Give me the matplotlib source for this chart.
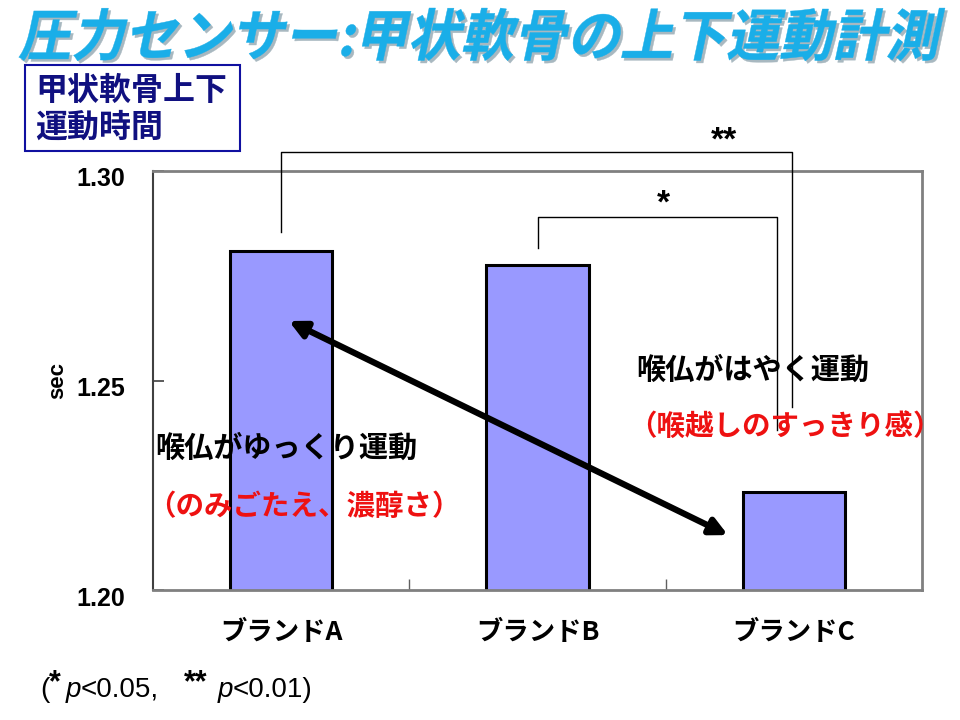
import math
import matplotlib
matplotlib.use("Agg")
import matplotlib.pyplot as plt
from matplotlib.textpath import TextPath
from matplotlib.font_manager import FontProperties
from matplotlib.patches import PathPatch, Rectangle
from matplotlib.transforms import Affine2D, ScaledTranslation

plt.rcParams['font.family'] = ['Noto Sans CJK JP', 'DejaVu Sans']

# ---- data ----
categories = ['ブランドA', 'ブランドB', 'ブランドC']
values = [1.281, 1.2775, 1.2235]
yticks = [1.20, 1.25, 1.30]
ytick_labels = ['1.20', '1.25', '1.30']
title = '圧力センサー:甲状軟骨の上下運動計測'
box_label_lines = ['甲状軟骨上下', '運動時間']
ylabel = 'sec'

W, H = 960, 720
fig = plt.figure(figsize=(9.6, 7.2), dpi=100)
fig.patch.set_facecolor('white')

ax = fig.add_axes([153 / W, 1 - 590 / H, (922 - 153) / W, (590 - 171) / H])
x = list(range(len(categories)))
ax.bar(x, values, width=0.4, color='#9999FF', edgecolor='black', linewidth=2.2, zorder=2)
ax.set_xlim(-0.5, 2.5)
ax.set_ylim(1.20, 1.30)
ax.set_yticks(yticks)
ax.set_yticklabels(ytick_labels, family=['Liberation Sans'], weight='bold', fontsize=18)
ax.tick_params(axis='y', direction='in', length=8, width=1.2, pad=20, color='#404040')
off = ScaledTranslation(0, -6 / 100, fig.dpi_scale_trans)
for lab in ax.get_yticklabels():
    lab.set_transform(lab.get_transform() + off)
ax.set_xticks(x)
ax.set_xticklabels(categories, fontsize=19, weight='bold')
ax.tick_params(axis='x', which='major', length=0, pad=21)
ax.set_xticks([0.5, 1.5], minor=True)
ax.tick_params(axis='x', which='minor', direction='in', length=8, width=1.0, color='#606060')
for s in ['top', 'right', 'bottom']:
    ax.spines[s].set_color('#808080')
    ax.spines[s].set_linewidth(2)
ax.spines['left'].set_color('#404040')
ax.spines['left'].set_linewidth(1.5)
ax.set_ylabel(ylabel, family=['Liberation Sans'], weight='bold', fontsize=16, labelpad=6)

# significance brackets
ax.plot([0, 0, 1.993, 1.993], [1.2854, 1.3045, 1.3045, 1.2437], color='black', lw=1.0,
        clip_on=False, zorder=3)
ax.text(1.727, 1.3072, '**', ha='center', va='center', fontsize=24, weight='bold',
        family=['Liberation Sans'])
ax.plot([1, 1, 1.934, 1.934], [1.2816, 1.289, 1.289, 1.2382], color='black', lw=1.0,
        clip_on=False, zorder=3)
ax.text(1.49, 1.2922, '*', ha='center', va='center', fontsize=24, weight='bold',
        family=['Liberation Sans'])

# double-headed arrow
ax.annotate('', xy=(0.03, 1.2642), xytext=(1.743, 1.2131),
            arrowprops=dict(arrowstyle='<|-|>,head_length=1.0,head_width=0.5', lw=4.5,
                            color='black', shrinkA=0, shrinkB=0), zorder=4)

# annotation texts
fig.text(155 / W, 1 - 448 / H, '喉仏がゆっくり運動', fontsize=21, weight='bold', color='black',
         ha='left', va='center')
fig.text(147 / W, 1 - 507 / H, '（のみごたえ、濃醇さ）', fontsize=20.5, weight='bold', color='#EE1111',
         ha='left', va='center')
fig.text(636 / W, 1 - 370 / H, '喉仏がはやく運動', fontsize=21, weight='bold', color='black',
         ha='left', va='center')
fig.text(628 / W, 1 - 427 / H, '（喉越しのすっきり感）', fontsize=20.5, weight='bold', color='#EE1111',
         ha='left', va='center')

# label box
fig.patches.append(Rectangle((25 / W, 1 - 151 / H), (240 - 25) / W, (151 - 65) / H,
                             transform=fig.transFigure, fill=False, edgecolor='#1010A0', lw=1.5))
for line, yc in zip(box_label_lines, [91, 128]):
    fig.text(35 / W, 1 - yc / H, line, fontsize=23, weight='bold', color='#101080',
             ha='left', va='center')

# footnote pieces
fy = 1 - 690 / H
fn = dict(family=['Liberation Sans'], fontsize=20, va='center', ha='left')
fst = dict(family=['Liberation Sans'], fontsize=22, weight='bold', va='center', ha='left')
fit = dict(family=['Liberation Sans'], fontsize=20, style='italic', va='center', ha='left')
fig.text(40 / W, fy, '(', **fn)
fig.text(49 / W, fy + 7 / H, '*', **fst)
fig.text(66 / W, fy, 'p', **fit)
fig.text(81 / W, fy, '<0.05,', **fn)
fig.text(184 / W, fy + 7 / H, '**', **fst)
fig.text(218 / W, fy, 'p', **fit)
fig.text(233 / W, fy, '<0.01)', **fn)

# title as skewed text path with shadow
fp = FontProperties(family='Noto Sans CJK JP', weight='bold')
tp = TextPath((0, 0), title, size=1, prop=fp)
bb = tp.get_extents()
x0px, x1px, ytop, ybot = 18, 945, 8, 61
hpx = ybot - ytop
skew = 12
shift = hpx * math.tan(math.radians(skew))
sx = (x1px - x0px - shift) / bb.width
sy = hpx / bb.height


def title_patch(dx, dy, color, z):
    t = (Affine2D().translate(-bb.x0, -bb.y0).scale(sx, sy).skew_deg(skew, 0)
         .translate(x0px + dx, (H - ybot) - dy).scale(1 / W, 1 / H) + fig.transFigure)
    p = PathPatch(tp, transform=t, facecolor=color, edgecolor=color, lw=0.3, zorder=z)
    fig.patches.append(p)


title_patch(2.5, 2.5, '#A8B8C0', 1)
title_patch(0, 0, '#1AAEE8', 2)

fig.savefig('out.png', dpi=100, facecolor='white')
